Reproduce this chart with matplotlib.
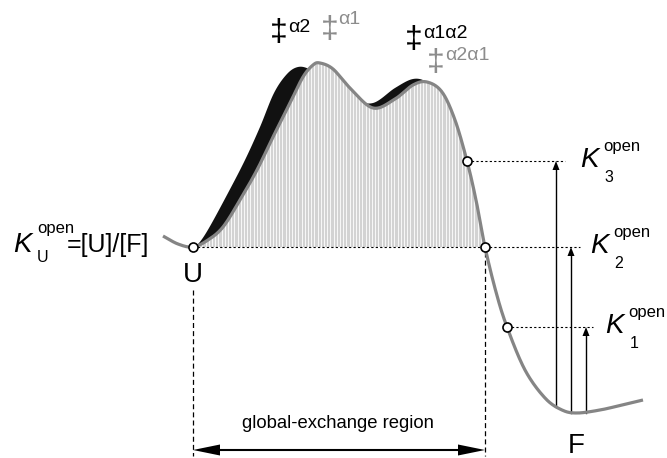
import matplotlib.pyplot as plt
import numpy as np
from matplotlib.patches import Polygon

plt.rcParams["font.family"] = ["Liberation Sans", "DejaVu Sans"]

# control points of the grey (alpha1-first) free-energy profile, pixel coords (y down)
grey_x = [163, 178, 193, 208, 223, 240, 257, 273, 290, 303, 313, 320, 333, 350, 373, 395, 413, 427, 442, 455, 467, 476, 485, 496, 507, 525, 545, 562, 577, 600, 622, 643]
grey_y = [236, 244, 247, 240, 227, 200, 170, 137, 103, 77, 65, 63, 69, 88, 108, 99, 85, 82, 92, 120, 161, 200, 247, 292, 327, 370, 398, 410, 413, 410, 405, 400]

# control points of the black (alpha2-first) profile
black_x = [193, 199, 209, 228, 245, 260, 274, 287, 298, 309, 322, 335, 352, 373, 395, 413, 427, 442, 455, 467, 485]
black_y = [247, 243, 228, 193, 160, 127, 93, 74, 67, 69, 78, 88, 99, 103, 88, 79, 82, 95, 125, 161, 247]

# marked states
U_pt = (193, 247)
K_pts_x = [507, 485, 467]
K_pts_y = [327, 247, 161]
K_names = ["1", "2", "3"]
arrow_x = [586, 571, 556]
arrow_base = [413, 413, 407]
dot_end = [593, 580, 565]
K_label_x = [614, 599, 589]
dash_top = [290, 252]

GREY = "#858585"
STRIPE = "#d3d3d3"


def catmull_rom(xs, ys, n=24):
    pts = np.column_stack([xs, ys]).astype(float)
    p = np.vstack([2 * pts[0] - pts[1], pts, 2 * pts[-1] - pts[-2]])
    t = np.linspace(0, 1, n, endpoint=False)[:, None]
    out = []
    for i in range(1, len(p) - 2):
        p0, p1, p2, p3 = p[i - 1], p[i], p[i + 1], p[i + 2]
        seg = 0.5 * ((2 * p1) + (-p0 + p2) * t + (2 * p0 - 5 * p1 + 4 * p2 - p3) * t ** 2
                     + (-p0 + 3 * p1 - 3 * p2 + p3) * t ** 3)
        out.append(seg)
    out.append(pts[-1:])
    return np.vstack(out)


def head(ax, tip, direction, length, half_w, zorder=6):
    tx, ty = tip
    dx, dy = direction
    bx, by = tx - dx * length, ty - dy * length
    px, py = -dy, dx
    tri = [(tx, ty), (bx + px * half_w, by + py * half_w), (bx - px * half_w, by - py * half_w)]
    ax.add_patch(Polygon(tri, closed=True, color="black", lw=0, zorder=zorder))


fig = plt.figure(figsize=(6.67, 4.58), dpi=100)
ax = fig.add_axes([0, 0, 1, 1])
ax.set_xlim(0, 667)
ax.set_ylim(458, 0)
ax.axis("off")

g = catmull_rom(grey_x, grey_y)
b = catmull_rom(black_x, black_y)
base_y = U_pt[1]

# black alpha2 path, seen only where it lies above the grey one
ax.fill(b[:, 0], b[:, 1], color="#111111", lw=0, zorder=1)

# striped area under the grey barrier
mask = (g[:, 0] >= U_pt[0]) & (g[:, 0] <= K_pts_x[1])
seg = g[mask]
ax.fill(np.r_[seg[:, 0], seg[-1, 0], seg[0, 0]], np.r_[seg[:, 1], base_y, base_y],
        color=STRIPE, lw=0, zorder=2)
xs = np.arange(U_pt[0] + 3, K_pts_x[1] - 1, 3.2)
tops = np.interp(xs, g[:, 0], g[:, 1])
ax.vlines(xs, tops, base_y, color="white", lw=0.6, zorder=3)

ax.plot(g[:, 0], g[:, 1], color=GREY, lw=2.3, solid_capstyle="butt", zorder=5)

# dotted levels
ax.plot([U_pt[0], K_pts_x[1]], [base_y, base_y], color="black", lw=0.8, ls=(0, (2, 2)), zorder=4)
for kx, ky, de in zip(K_pts_x, K_pts_y, dot_end):
    ax.plot([kx, de], [ky, ky], color="black", lw=0.8, ls=(0, (2, 2)), zorder=4)

# vertical arrows from F
for axp, ab, ky in zip(arrow_x, arrow_base, K_pts_y):
    ax.plot([axp, axp], [ab, ky + 8], color="black", lw=1.0, zorder=4)
    head(ax, (axp, ky), (0, -1), 9, 3.5)

# state circles
ax.plot([U_pt[0]] + K_pts_x, [U_pt[1]] + K_pts_y, "o", ms=6.5, mfc="white", mec="black",
        mew=1.2, zorder=7)

# global-exchange region
for vx, top in zip((U_pt[0], K_pts_x[1]), dash_top):
    ax.plot([vx, vx], [top, 456], color="black", lw=0.9, ls=(0, (4, 2.5)), zorder=4)
ax.plot([U_pt[0] + 20, K_pts_x[1] - 20], [450, 450], color="black", lw=1.5, zorder=4)
head(ax, (U_pt[0], 450), (-1, 0), 27, 5.5)
head(ax, (K_pts_x[1], 450), (1, 0), 27, 5.5)
ax.text((U_pt[0] + K_pts_x[1]) / 2 - 1, 424, "global-exchange region", fontsize=13.3,
        ha="center", va="center")

# state labels
ax.text(193, 282, "U", fontsize=20, ha="center", va="baseline")
ax.text(576, 453, "F", fontsize=20, ha="center", va="baseline")

# K_U label
ax.text(22, 245, "K", fontsize=20, style="italic", ha="center", va="center")
ax.text(56, 229, "open", fontsize=12, ha="center", va="center")
ax.text(43, 258, "U", fontsize=11.5, ha="center", va="center")
ax.text(67, 245, "=[U]/[F]", fontsize=18, ha="left", va="center")

# K_n labels
for lx, ky, nm in zip(K_label_x, K_pts_y, K_names):
    ax.text(lx, ky - 1, "K", fontsize=20, style="italic", ha="center", va="center")
    ax.text(lx + 33, ky - 14, "open", fontsize=12, ha="center", va="center")
    ax.text(lx + 20, ky + 16, nm, fontsize=11.5, ha="center", va="center")

# transition-state labels
ax.text(279, 33, "\u2021", fontsize=23, ha="center", va="center", color="black")
ax.text(288, 28, "\u03b12", fontsize=14, ha="left", va="center", color="black")
ax.text(330, 30, "\u2021", fontsize=23, ha="center", va="center", color="#8c8c8c")
ax.text(338, 20, "\u03b11", fontsize=14, ha="left", va="center", color="#8c8c8c")
ax.text(414, 40, "\u2021", fontsize=23, ha="center", va="center", color="black")
ax.text(423, 34, "\u03b11\u03b12", fontsize=14, ha="left", va="center", color="black")
ax.text(436, 63, "\u2021", fontsize=23, ha="center", va="center", color="#8c8c8c")
ax.text(445, 56, "\u03b12\u03b11", fontsize=14, ha="left", va="center", color="#8c8c8c")

fig.savefig("out.png", dpi=100)
